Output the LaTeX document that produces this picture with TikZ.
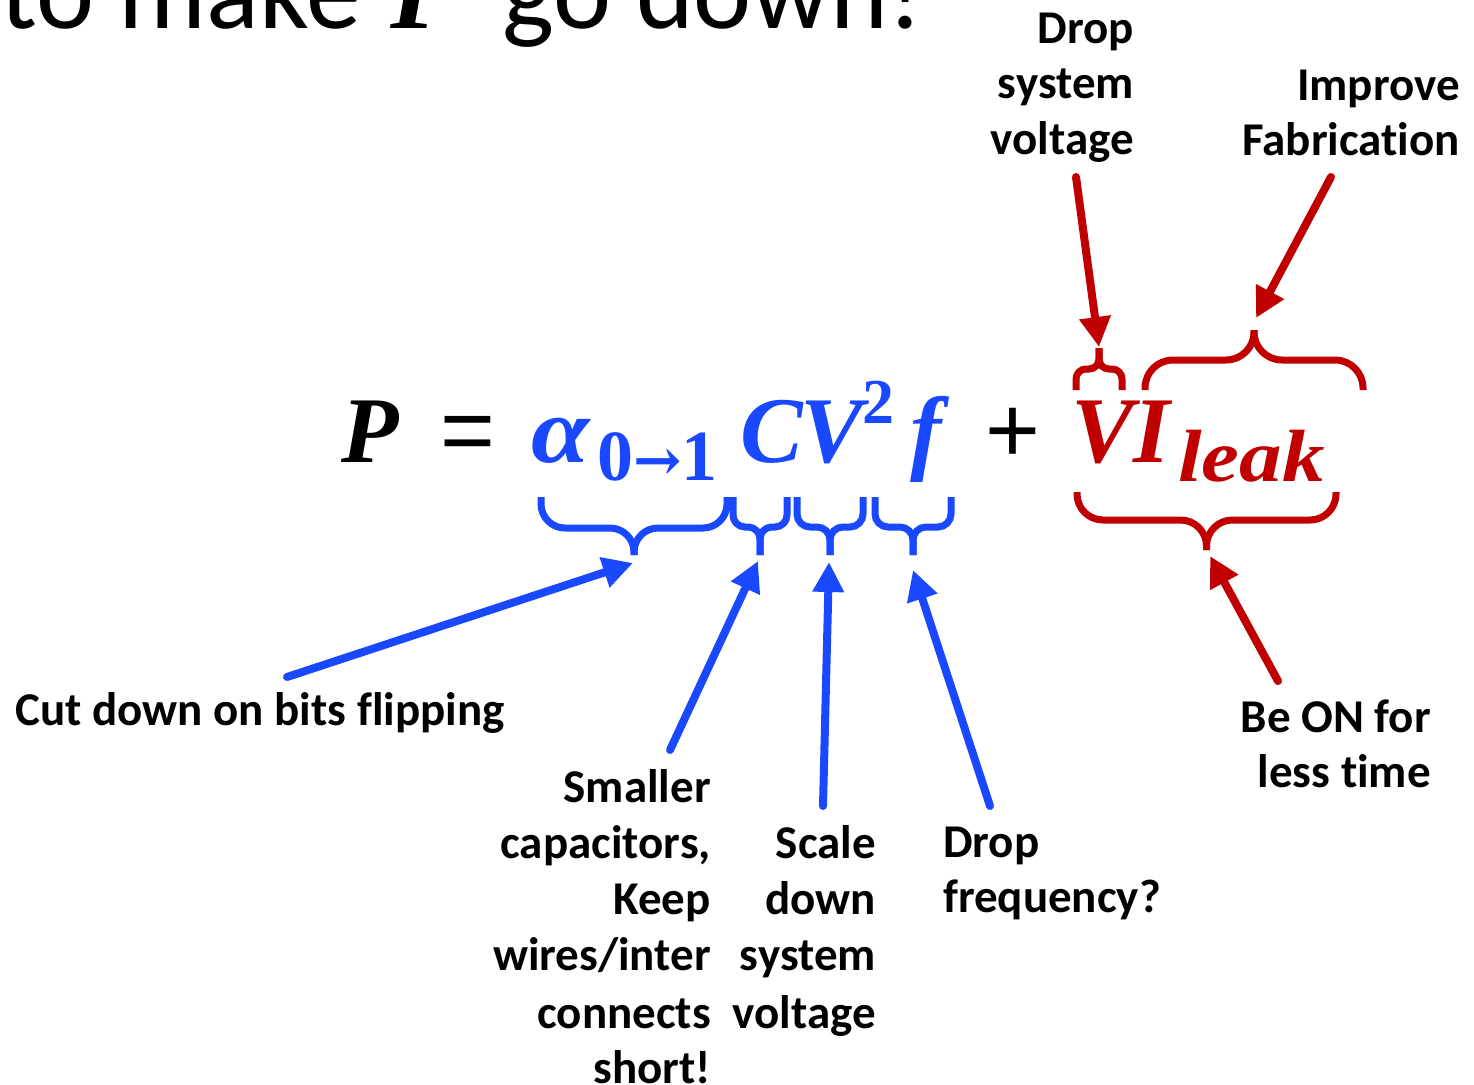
\documentclass[tikz,border=0pt]{standalone}
\usepackage{fontspec}
\setmainfont[Ligatures=NoCommon]{Carlito}
\newfontfamily\eqf{Liberation Serif}
\newfontfamily\eqops{Liberation Sans}
\newfontfamily\eqarr{DejaVu Serif}
\usetikzlibrary{arrows.meta}
\definecolor{eqblue}{RGB}{26,72,255}
\definecolor{eqred}{RGB}{192,0,0}
\newcommand\mybrace[7]{% xl xr yend ymid ytip radius colour
  \draw[brc,#7,rounded corners=#6] (#1,#3) -- (#1,#4) -- ({(#1+#2)/2},#4) -- ({(#1+#2)/2},#5);
  \draw[brc,#7,rounded corners=#6] (#2,#3) -- (#2,#4) -- ({(#1+#2)/2},#4) -- ({(#1+#2)/2},#5);
}
\begin{document}
\begin{tikzpicture}[x=1pt,y=-1pt,
  lbl/.style={font=\fontsize{47}{56}\selectfont\bfseries, inner sep=0},
  eqn/.style={font=\fontsize{94}{94}\selectfont\eqf\bfseries\itshape, inner sep=0, anchor=base west},
  eqop/.style={font=\fontsize{94}{94}\selectfont\eqops, inner sep=0, anchor=base west},
  eqsub/.style={font=\fontsize{72}{72}\selectfont\eqf\bfseries, inner sep=0, anchor=base west},
  ttl/.style={font=\fontsize{110}{110}\selectfont, inner sep=0},
  brc/.style={line width=7pt},
  arr/.style={line width=8pt, line cap=round, -{Triangle[length=30pt,width=30pt]}}]
\useasboundingbox (0,0) rectangle (1474,1084);
\clip (0,0) rectangle (1474,1084);

% title (cut off at the top)
\node[ttl, anchor=base east] (t1) at (361,28) {to make};
\node[ttl, anchor=base west, font=\fontsize{110}{110}\selectfont\eqf\bfseries\itshape] (t2) at (390,28) {P};
\node[ttl, anchor=base west] (t3) at (502,28) {go down!};

% equation
\node[eqn] (P) at (341,462) {P};
\node[eqop] (eq) at (440,462) {=};
\node[eqn, eqblue] (al) at (531,462) {\scalebox{1.12}[1]{α}};
\node[eqsub, eqblue] (al01) at (597,480) {0{\eqarr\fontsize{58}{58}\selectfont →}1};
\node[eqn, eqblue] (C) at (740,462) {C};
\node[eqn, eqblue] (V) at (800,462) {V};
\node[eqsub, eqblue, font=\fontsize{64}{64}\selectfont\eqf\bfseries] (sq) at (862,423) {2};
\node[eqn, eqblue] (f) at (910,462) {f};
\node[eqop] (plus) at (985,462) {+};
\node[eqn, eqred] (Vr) at (1071,462) {V};
\node[eqn, eqred] (I) at (1133,462) {I};
\node[eqsub, eqred, font=\fontsize{74}{74}\selectfont\eqf\bfseries\itshape] (leak) at (1178,481) {\scalebox{1.15}[1]{leak}};

% braces
\mybrace{541}{727}{497}{528}{555}{24pt}{eqblue}
\mybrace{733}{787}{497}{527}{555}{12pt}{eqblue}
\mybrace{797}{863}{497}{527}{555}{13pt}{eqblue}
\mybrace{875}{951}{497}{527}{555}{13pt}{eqblue}
\mybrace{1077}{1336}{492}{520}{550}{26pt}{eqred}
\mybrace{1076}{1122}{390}{369}{348}{10pt}{eqred}
\mybrace{1145}{1363}{390}{360}{330}{28pt}{eqred}

% brace tips
\coordinate (tipA) at (633,563);
\coordinate (tipC) at (758,561);
\coordinate (tipV) at (829,562);
\coordinate (tipF) at (913,570);
\coordinate (tipVr) at (1099,347);
\coordinate (tipI) at (1256,318);
\coordinate (tipVI) at (1210,556);

% labels
\node[lbl, anchor=base east] (d1) at (1134,43) {Drop};
\node[lbl, anchor=base east] (d2) at (1134,98) {system};
\node[lbl, anchor=base east] (d3) at (1134,154) {voltage};
\node[lbl, anchor=base east] (i1) at (1460,100) {Improve};
\node[lbl, anchor=base east] (i2) at (1460,155) {Fabrication};
\node[lbl, anchor=base west] (c1) at (15,725) {Cut down on bits flipping};
\node[lbl, anchor=base east] (s1) at (711,802) {Smaller};
\node[lbl, anchor=base east] (s2) at (711,858) {capacitors,};
\node[lbl, anchor=base east] (s3) at (711,914) {Keep};
\node[lbl, anchor=base east] (s4) at (711,970) {wires/inter};
\node[lbl, anchor=base east] (s5) at (711,1028) {connects};
\node[lbl, anchor=base east] (s6) at (711,1083) {short!};
\node[lbl, anchor=base east] (k1) at (876,858) {Scale};
\node[lbl, anchor=base east] (k2) at (876,914) {down};
\node[lbl, anchor=base east] (k3) at (876,970) {system};
\node[lbl, anchor=base east] (k4) at (876,1028) {voltage};
\node[lbl, anchor=base west] (f1) at (943,857) {Drop};
\node[lbl, anchor=base west] (f2) at (943,912) {frequency?};
\node[lbl, anchor=base east] (b1) at (1431,732) {Be ON for};
\node[lbl, anchor=base east] (b2) at (1431,787) {less time};

% arrow starts
\coordinate (sA) at (287,677);
\coordinate (sC) at (670,750);
\coordinate (sV) at (823,806);
\coordinate (sF) at (990,806);
\coordinate (sVr) at (1076,177);
\coordinate (sI) at (1331,177);
\coordinate (sVI) at (1278,681);

\draw[arr, eqblue] (sA) -- (tipA);
\draw[arr, eqblue] (sC) -- (tipC);
\draw[arr, eqblue] (sV) -- (tipV);
\draw[arr, eqblue] (sF) -- (tipF);
\draw[arr, eqred] (sVr) -- (tipVr);
\draw[arr, eqred] (sI) -- (tipI);
\draw[arr, eqred] (sVI) -- (tipVI);
\end{tikzpicture}
\end{document}
